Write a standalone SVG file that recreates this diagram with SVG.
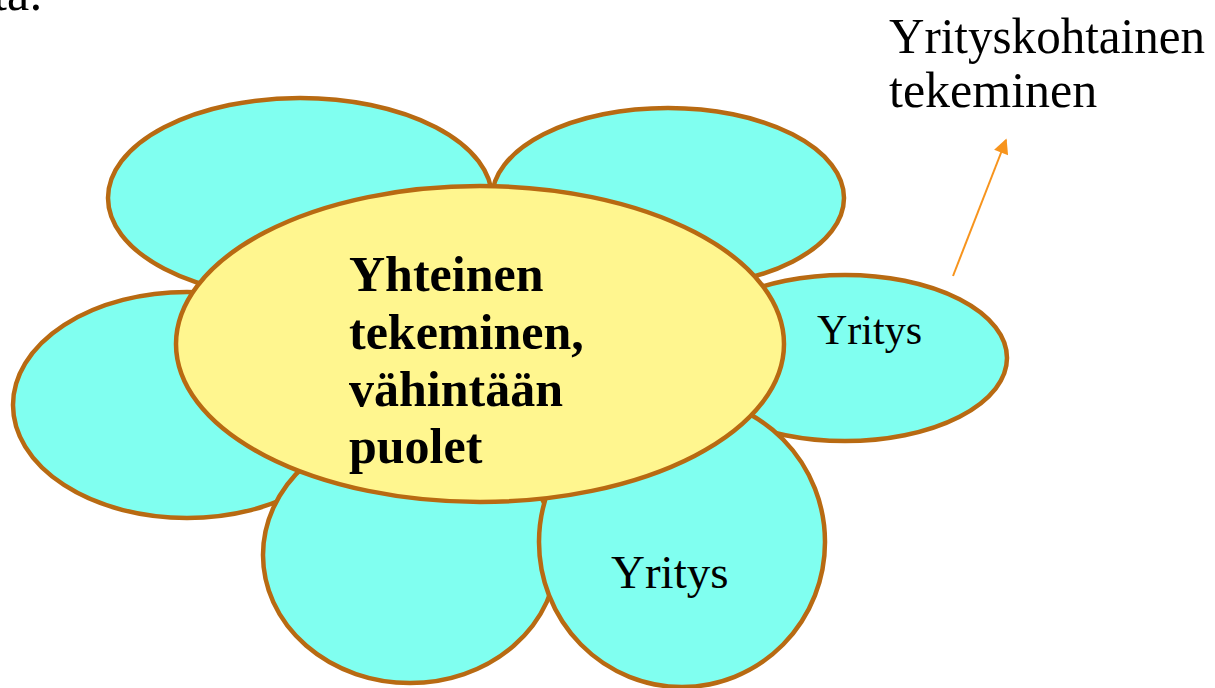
<svg xmlns="http://www.w3.org/2000/svg" width="1215" height="688" viewBox="0 0 1215 688">
  <style>
    .petal { fill: #80FFF0; stroke: #B86A12; stroke-width: 4.5; }
    .core { fill: #FFF68F; stroke: #B86A12; stroke-width: 4.5; }
    .t { font-family: "Liberation Serif", "Times New Roman", serif; fill: #000; }
    .b { font-weight: bold; font-size: 50px; }
    .conn { stroke: #F7941D; stroke-width: 2; fill: none; }
  </style>
  <defs>
    <marker id="arrow" viewBox="0 0 10 10" refX="9" refY="5" markerWidth="8.5" markerHeight="7.5" markerUnits="strokeWidth" orient="auto">
      <path d="M0,0 L10,5 L0,10 z" fill="#F7941D"/>
    </marker>
  </defs>
  <rect x="0" y="0" width="1215" height="688" fill="#FFFFFF"/>
  <text class="t" x="-7" y="10" font-size="50">ta:</text>

  <g id="petal-top-left"><ellipse class="petal" cx="300" cy="198" rx="192" ry="100"/></g>
  <g id="petal-top-right"><ellipse class="petal" cx="668" cy="198" rx="176" ry="90"/></g>
  <g id="petal-left"><ellipse class="petal" cx="187" cy="405" rx="174" ry="113"/></g>
  <g id="petal-right">
    <ellipse class="petal" cx="845" cy="358" rx="162" ry="83"/>
    <text class="t" x="817" y="344" font-size="42">Yritys</text>
  </g>
  <g id="petal-bottom-middle"><ellipse class="petal" cx="410" cy="555" rx="147" ry="128"/></g>
  <g id="petal-bottom-right">
    <ellipse class="petal" cx="682" cy="542" rx="143" ry="145"/>
    <text class="t" x="611" y="588" font-size="47">Yritys</text>
  </g>
  <g id="center">
    <ellipse class="core" cx="480" cy="344" rx="304" ry="158"/>
    <text class="t b" x="349" y="291">Yhteinen</text>
    <text class="t b" x="349" y="349">tekeminen,</text>
    <text class="t b" x="349" y="406">vähintään</text>
    <text class="t b" x="349" y="463">puolet</text>
  </g>
  <g id="label-yrityskohtainen">
    <text class="t" x="889" y="53" font-size="50" textLength="316" lengthAdjust="spacingAndGlyphs">Yrityskohtainen</text>
    <text class="t" x="889" y="107" font-size="50">tekeminen</text>
  </g>
  <g id="connectors">
    <line class="conn" x1="953" y1="276" x2="1006" y2="140" marker-end="url(#arrow)"/>
  </g>
</svg>
